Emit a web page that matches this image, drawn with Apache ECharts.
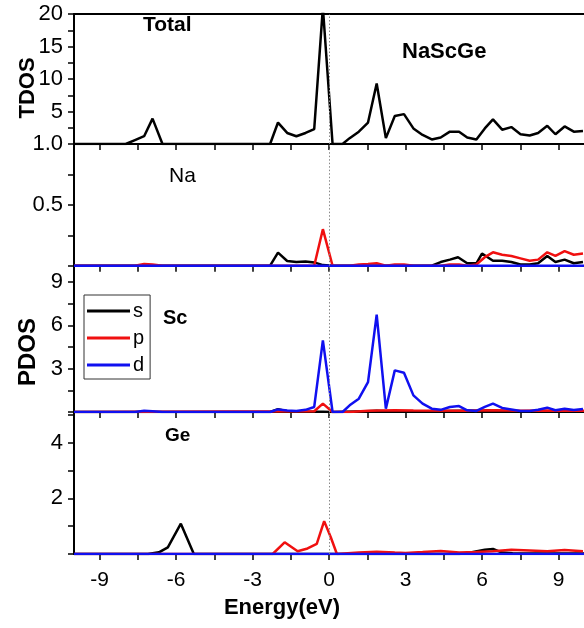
<!DOCTYPE html>
<html>
<head>
<meta charset="utf-8">
<script src="https://cdn.jsdelivr.net/npm/echarts@6/dist/echarts.min.js"></script>
<style>html,body{margin:0;padding:0;background:#fff;}#c{width:584px;height:628px;}</style>
</head>
<body>
<div id="c"></div>
<script>
// Energy tick positions / labels
const energyTicks = [-9,-7.5,-6,-4.5,-3,-1.5,0,1.5,3,4.5,6,7.5,9];
const energyLabels = [-9,-6,-3,0,3,6,9];

// Total DOS
const total = [[-10,0],[-7.97,0],[-7.61,0.6],[-7.25,1.2],[-6.92,3.9],[-6.53,0],[-2.31,0],[-2.0,3.3],[-1.64,1.7],[-1.28,1.2],[-0.92,1.7],[-0.58,2.3],[-0.24,21],[0.14,0],[0.53,0],[0.81,0.9],[1.17,1.9],[1.53,3.3],[1.87,9.3],[2.23,0.9],[2.58,4.3],[2.94,4.6],[3.31,2.4],[3.67,1.4],[4.03,0.7],[4.38,1.0],[4.74,1.9],[5.1,1.9],[5.42,1.0],[5.78,0.7],[6.11,2.4],[6.43,3.8],[6.79,2.2],[7.15,2.6],[7.51,1.5],[7.87,1.3],[8.2,1.7],[8.56,2.8],[8.88,1.5],[9.24,2.7],[9.6,1.9],[9.96,2.0]];

// Na PDOS
const naS = [[-10,0],[-2.31,0],[-2.0,0.107],[-1.64,0.039],[-1.28,0.03],[-0.92,0.035],[-0.58,0.027],[-0.24,0.005],[0.14,0],[4.03,0],[4.38,0.03],[4.74,0.05],[5.06,0.07],[5.42,0.02],[5.78,0.02],[6.0,0.1],[6.43,0.04],[6.79,0.04],[7.15,0.03],[7.51,0.01],[7.87,0.01],[8.2,0.02],[8.56,0.08],[8.88,0.03],[9.24,0.05],[9.6,0.02],[9.96,0.03]];
const naP = [[-10,0],[-7.61,0],[-7.25,0.015],[-6.92,0.01],[-6.53,0],[-0.58,0],[-0.24,0.3],[0.14,0],[0.81,0],[1.17,0.01],[1.53,0.015],[1.87,0.02],[2.23,0],[2.58,0.01],[2.94,0.01],[3.31,0],[4.38,0],[4.74,0.01],[5.1,0.01],[5.42,0],[5.78,0.01],[6.11,0.07],[6.43,0.11],[6.79,0.09],[7.15,0.08],[7.51,0.06],[7.87,0.04],[8.2,0.05],[8.56,0.11],[8.88,0.08],[9.24,0.12],[9.6,0.09],[9.96,0.1]];
const naD = [[-10,0],[10,0]];

// Sc PDOS
const scS = [[-10,0],[-2.31,0],[-2.0,0.2],[-1.64,0.05],[-1.28,0.02],[-0.24,0.02],[0.14,0],[1.53,0.05],[1.87,0.08],[2.23,0.05],[3.0,0.03],[6.11,0.1],[6.43,0.12],[7.0,0.05],[10,0.03]];
const scP = [[-10,0],[-0.58,0.05],[-0.24,0.58],[0.14,0],[0.81,0],[1.53,0.08],[2.58,0.12],[3.31,0.1],[5.42,0.08],[6.43,0.12],[7.5,0.08],[8.56,0.1],[10,0.08]];
const scD = [[-10,0],[-7.61,0],[-7.25,0.08],[-6.92,0.05],[-6.53,0],[-2.31,0],[-2.0,0.18],[-1.64,0.1],[-1.28,0.07],[-0.92,0.15],[-0.58,0.35],[-0.24,4.96],[0.14,0],[0.53,0],[0.81,0.46],[1.17,0.92],[1.53,2.07],[1.87,6.73],[2.23,0.23],[2.58,2.88],[2.94,2.72],[3.31,1.15],[3.67,0.58],[4.03,0.23],[4.38,0.15],[4.74,0.35],[5.1,0.41],[5.42,0.12],[5.78,0.07],[6.11,0.35],[6.43,0.58],[6.79,0.28],[7.15,0.18],[7.51,0.07],[7.87,0.07],[8.2,0.15],[8.56,0.3],[8.88,0.12],[9.24,0.23],[9.6,0.14],[9.96,0.2]];

// Ge PDOS
const geS = [[-10,0],[-7.1,0],[-6.67,0.06],[-6.32,0.24],[-5.81,1.09],[-5.3,0],[5.1,0],[5.5,0.05],[6.11,0.15],[6.43,0.18],[6.79,0.05],[7.2,0.03],[10,0.02]];
const geP = [[-10,0],[-2.21,0],[-1.74,0.42],[-1.23,0.1],[-0.84,0.2],[-0.48,0.36],[-0.19,1.18],[0.07,0.6],[0.31,0],[1.17,0.05],[1.87,0.08],[2.58,0.05],[3.0,0.04],[3.67,0.07],[4.38,0.11],[5.1,0.05],[5.78,0.07],[6.43,0.1],[7.15,0.15],[7.87,0.13],[8.56,0.1],[9.24,0.14],[9.96,0.1]];
const geD = [[-10,0],[10,0]];

// y-axis ticks / labels per panel
const tdosTicks = [0,2.5,5,7.5,10,12.5,15,17.5,20];
const tdosLabels = [5,10,15,20];
const naTicks = [0,0.25,0.5,0.75,1.0];
const naLabels = [0.5,1.0];
const scTicks = [0,1.5,3,4.5,6,7.5,9];
const scLabels = [3,6,9];
const geTicks = [0,1,2,3,4,5];
const geLabels = [2,4];

const FONT = '"Liberation Sans", Arial, sans-serif';
const BLACK = '#000000', RED = '#f01010', BLUE = '#1010f0';

const grids = [
  {left:74, width:517, top:14, height:130},
  {left:74, width:517, top:144, height:121.7},
  {left:74, width:517, top:266, height:146},
  {left:74, width:517, top:412, height:142}
];

const yDefs = [
  {max:20, ticks:tdosTicks, labels:tdosLabels, fmt:v=>String(v)},
  {max:1.0, ticks:naTicks, labels:naLabels, fmt:v=>v.toFixed(1)},
  {max:10.1, ticks:scTicks, labels:scLabels, fmt:v=>String(v)},
  {max:5.1, ticks:geTicks, labels:geLabels, fmt:v=>String(v)}
];

const xAxis = grids.map((g,i)=>({
  type:'value', gridIndex:i, min:-10, max:10, position:'bottom',
  axisLine:{show:true, onZero:false, lineStyle:{color:BLACK, width:2}},
  axisTick:{show:true, customValues:energyTicks, length:6, lineStyle:{color:BLACK, width:1.5}},
  axisLabel:{show:i===3, customValues:energyLabels, fontSize:21, margin:16, color:BLACK, fontFamily:FONT, formatter:v=>String(v)},
  splitLine:{show:false}
}));
xAxis.push({
  type:'value', gridIndex:0, min:-10, max:10, position:'top',
  axisLine:{show:true, onZero:false, lineStyle:{color:BLACK, width:2}},
  axisTick:{show:false}, axisLabel:{show:false}, splitLine:{show:false}
});

const yAxis = yDefs.map((d,i)=>({
  type:'value', gridIndex:i, min:0, max:d.max,
  axisLine:{show:true, onZero:false, lineStyle:{color:BLACK, width:2}},
  axisTick:{show:true, customValues:d.ticks, length:6, lineStyle:{color:BLACK, width:1.5}},
  axisLabel:{show:true, customValues:d.labels, fontSize:22, margin:11, color:BLACK, fontFamily:FONT, formatter:d.fmt},
  splitLine:{show:false}
}));

function ln(name, data, gi, color, mark){
  const s = {
    type:'line', name:name, data:data, xAxisIndex:gi, yAxisIndex:gi,
    symbol:'none', showSymbol:false, clip:true,
    lineStyle:{color:color, width:2.5}, itemStyle:{color:color},
    emphasis:{disabled:true}, animation:false
  };
  if(mark){
    s.markLine = {silent:true, symbol:'none', label:{show:false},
      lineStyle:{color:'#888', type:[1.5,2], width:1},
      data:[{xAxis:0}]};
  }
  return s;
}

const series = [
  ln('Total', total, 0, BLACK, true),
  ln('s', naS, 1, BLACK, true), ln('p', naP, 1, RED), ln('d', naD, 1, BLUE),
  ln('s', scS, 2, BLACK, true), ln('p', scP, 2, RED), ln('d', scD, 2, BLUE),
  ln('s', geS, 3, BLACK, true), ln('p', geP, 3, RED), ln('d', geD, 3, BLUE)
];

function txt(s, x, y, font, rot){
  return {type:'text', x:x, y:y, rotation:rot||0, silent:true,
    style:{text:s, font:font, fill:BLACK, align:rot?'center':'left', verticalAlign:'middle'}};
}

const option = {
  backgroundColor:'#ffffff',
  animation:false,
  grid:grids,
  xAxis:xAxis,
  yAxis:yAxis,
  series:series,
  legend:{
    data:['s','p','d'], orient:'vertical', left:84, top:295,
    icon:'rect', itemWidth:43, itemHeight:3, itemGap:7,
    borderColor:'#333', borderWidth:1, padding:[6,6,4,3],
    selectedMode:false,
    textStyle:{fontSize:20, fontFamily:FONT, color:BLACK, padding:[0,0,0,-2]}
  },
  graphic:[
    txt('Total', 143, 25, 'bold 21px '+FONT),
    txt('NaScGe', 402, 52, 'bold 22px '+FONT),
    txt('Na', 169, 176, '21px '+FONT),
    txt('Sc', 163, 318, 'bold 20px '+FONT),
    txt('Ge', 165, 436, 'bold 19px '+FONT),
    txt('TDOS', 28, 88, 'bold 22px '+FONT, Math.PI/2),
    txt('PDOS', 28, 352, 'bold 24px '+FONT, Math.PI/2),
    {type:'text', x:282, y:608, silent:true,
     style:{text:'Energy(eV)', font:'bold 22px '+FONT, fill:BLACK, align:'center', verticalAlign:'middle'}}
  ]
};

const chart = echarts.init(document.getElementById('c'), null, {renderer:'canvas'});
chart.setOption(option);
</script>
</body>
</html>
